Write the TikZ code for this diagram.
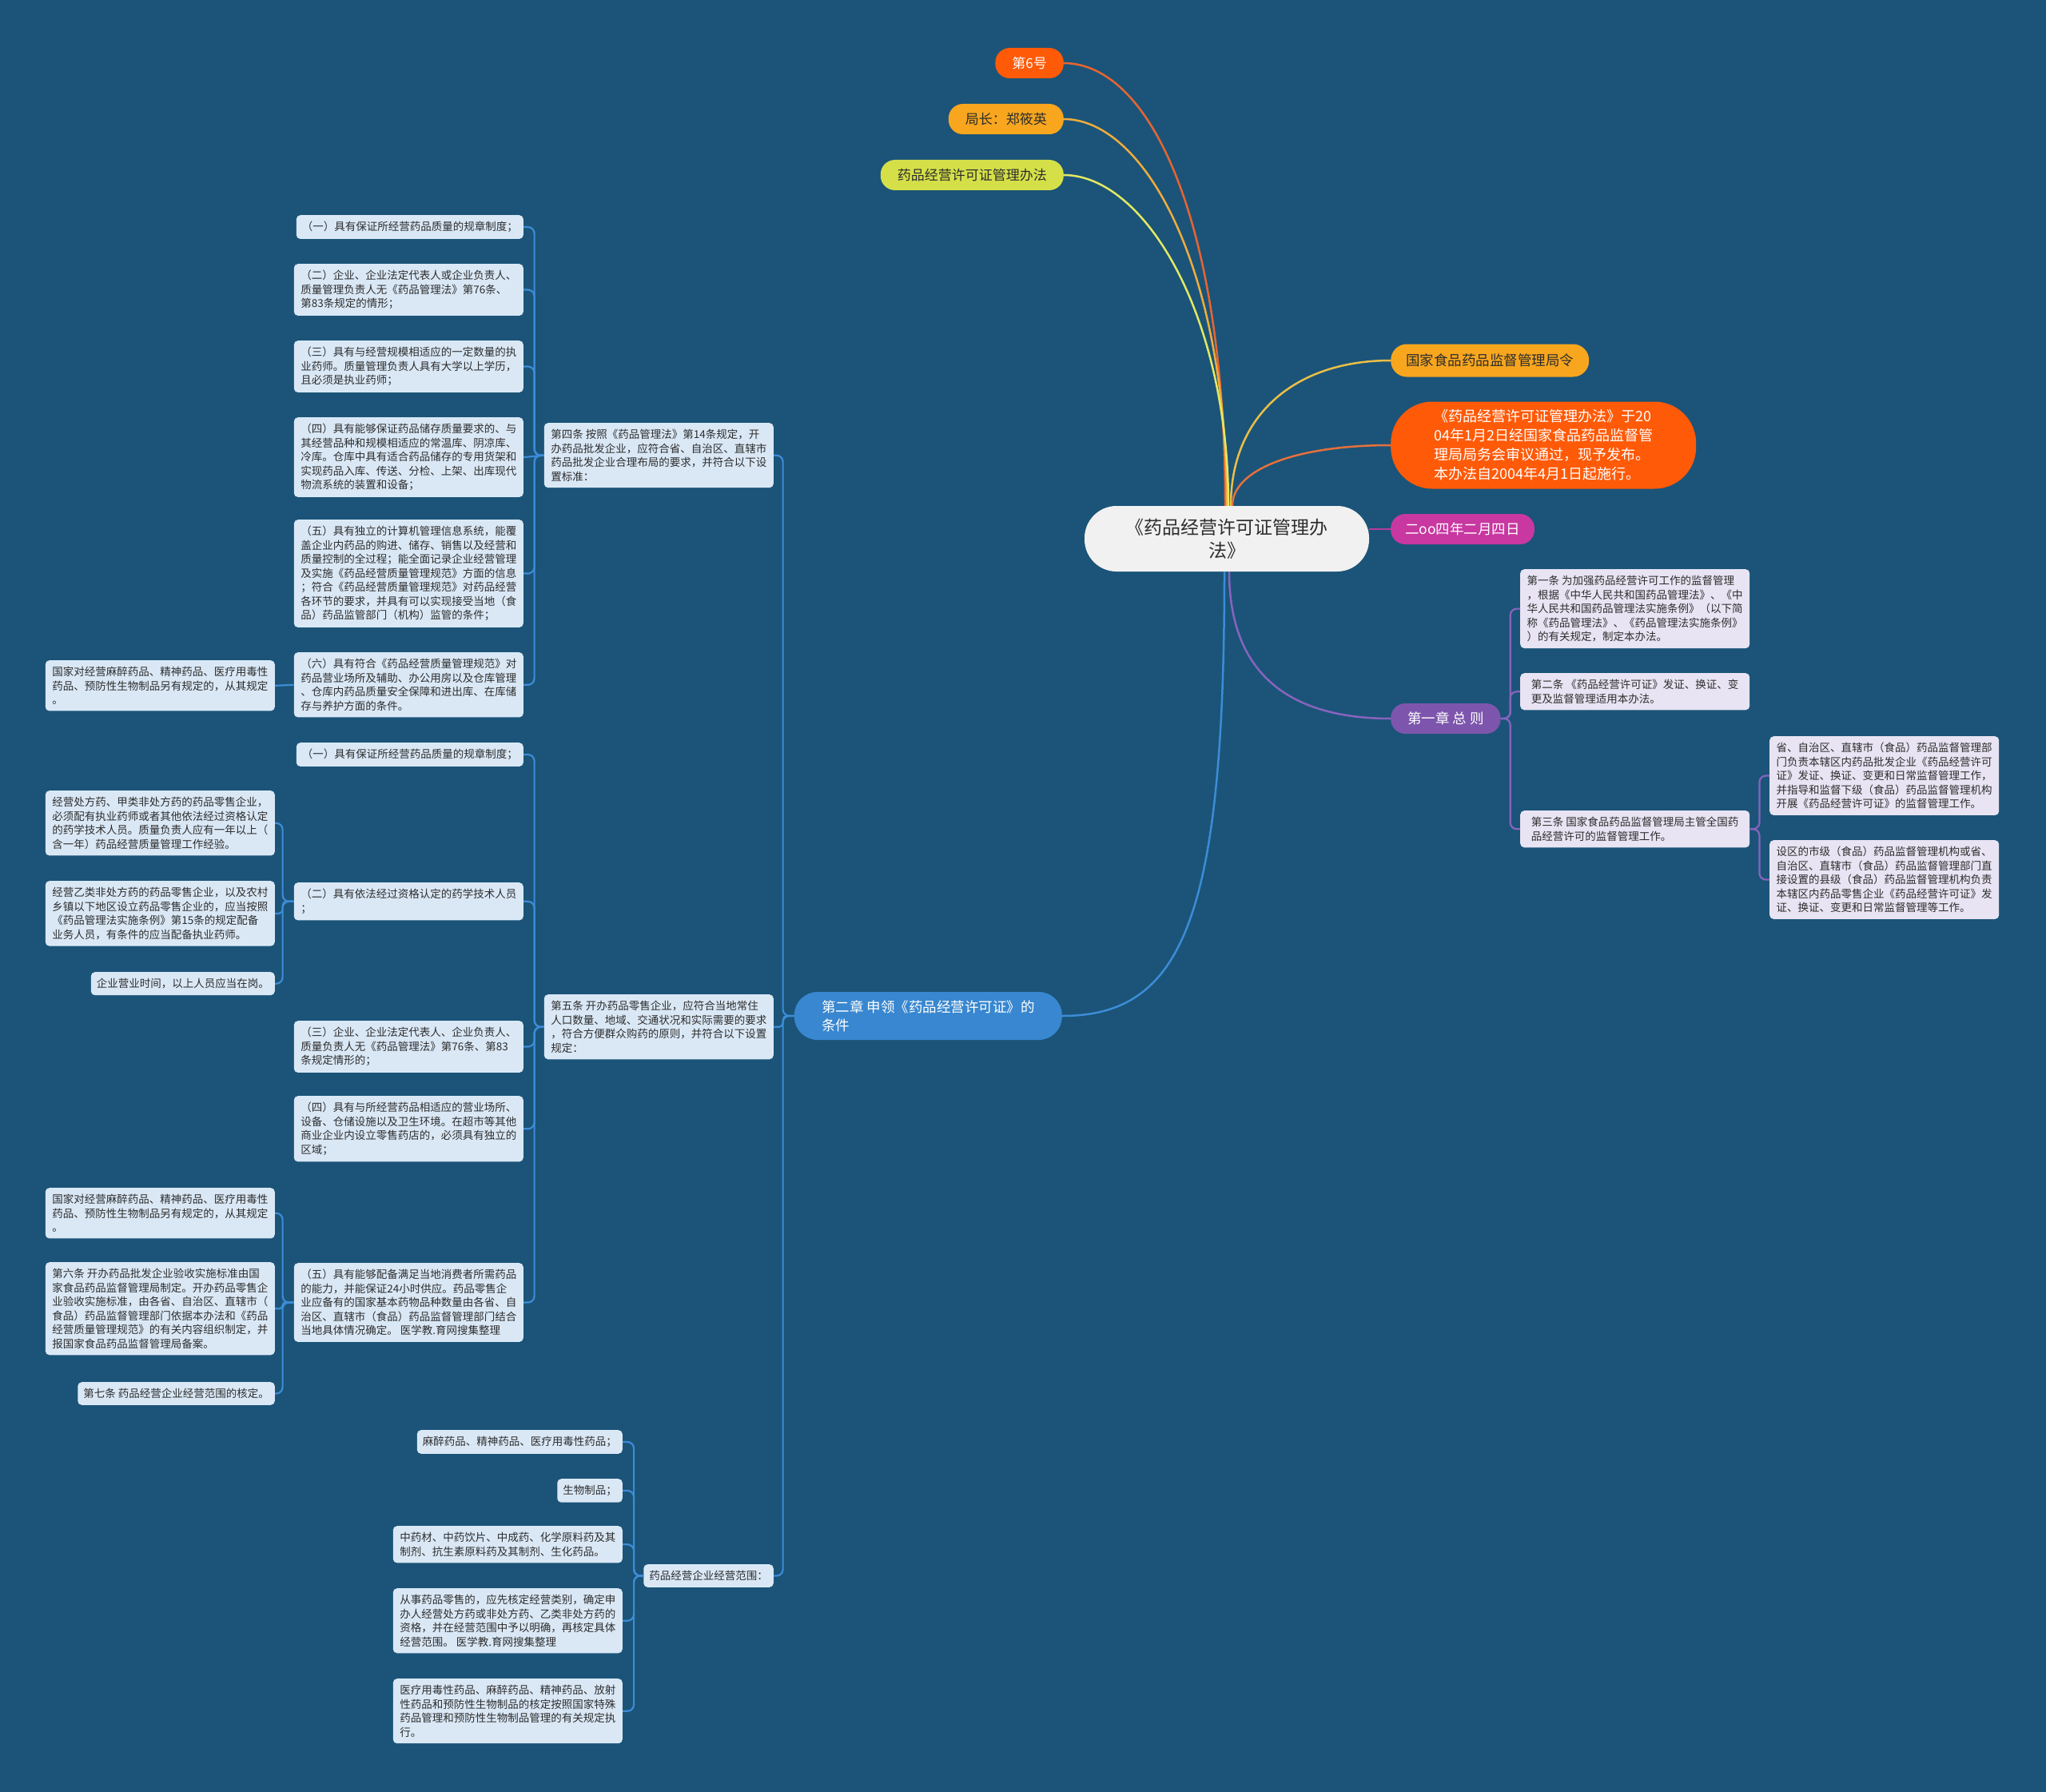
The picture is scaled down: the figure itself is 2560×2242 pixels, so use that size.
\documentclass[tikz,border=0pt]{standalone}
\usepackage{fontspec}
\setmainfont{Noto Sans CJK SC}
\usetikzlibrary{calc}
\definecolor{bgc}{RGB}{27,84,120}
\definecolor{txt}{RGB}{45,45,45}
\definecolor{leafb}{RGB}{218,232,246}
\definecolor{leafv}{RGB}{232,228,243}
\definecolor{rootf}{RGB}{241,241,241}
\definecolor{redf}{RGB}{255,90,8}
\definecolor{orf}{RGB}{248,166,30}
\definecolor{ygf}{RGB}{213,224,72}
\definecolor{magf}{RGB}{200,56,160}
\definecolor{purf}{RGB}{125,85,172}
\definecolor{bluef}{RGB}{56,135,208}
\definecolor{lred}{RGB}{232,100,50}
\definecolor{lor}{RGB}{240,172,60}
\definecolor{lyg}{RGB}{226,232,100}
\definecolor{lor2}{RGB}{236,190,70}
\definecolor{lor3}{RGB}{230,112,60}
\definecolor{lmag}{RGB}{180,60,160}
\definecolor{lpur}{RGB}{135,100,190}
\definecolor{lblue}{RGB}{60,140,215}
\tikzset{
  leaf/.style={fill=leafb, rounded corners=5pt, inner xsep=7pt, inner ysep=8pt, align=left,
    font=\fontsize{13.5}{17.5}\selectfont, text=txt},
  leafL/.style={leaf, anchor=north east},
  leafR/.style={leaf, fill=leafv, anchor=north west},
  wide/.style={minimum width=287pt},
  toppill/.style={font=\fontsize{17}{20}\selectfont, minimum height=38pt, inner xsep=21pt, inner ysep=2pt, rounded corners=18pt},
  sidepill/.style={font=\fontsize{17.5}{21}\selectfont, inner xsep=19pt, inner ysep=2pt, anchor=west},
  mainln/.style={line width=2.5pt},
  bb/.style={draw=lblue, line width=2.2pt, rounded corners=8pt},
  bp/.style={draw=lpur, line width=2.2pt, rounded corners=8pt},
}
\begin{document}
\begin{tikzpicture}[x=1pt,y=-1pt]
\fill[bgc] (0,0) rectangle (2560,2242);
\useasboundingbox (0,0) rectangle (2560,2242);

% root
\node[fill=rootf, text=txt, font=\fontsize{23}{29}\selectfont, align=center, minimum width=356pt, minimum height=82pt, rounded corners=40pt, inner sep=2pt] (root) at (1535,674) {《药品经营许可证管理办\\法》};

% top nodes
\node[toppill, fill=redf, text=white, anchor=east] (n6) at (1331,79) {第6号};
\node[toppill, fill=orf, text=txt, anchor=east] (nJ) at (1331,149) {局长：郑筱英};
\node[toppill, fill=ygf, text=txt, anchor=east] (nY) at (1331,219) {药品经营许可证管理办法};

% right nodes
\node[sidepill, fill=orf, text=txt, minimum height=41pt, rounded corners=20pt] (nG) at (1740,451) {国家食品药品监督管理局令};
\node[fill=redf, text=white, font=\fontsize{18}{24}\selectfont, align=left, minimum width=382pt, minimum height=109pt, rounded corners=52pt, inner sep=2pt, anchor=west] (nB) at (1740,557) {《药品经营许可证管理办法》于20\\04年1月2日经国家食品药品监督管\\理局局务会审议通过，现予发布。\\本办法自2004年4月1日起施行。};
\node[sidepill, fill=magf, text=white, minimum height=38pt, rounded corners=18pt, inner xsep=18pt] (nD) at (1740,662) {二oo四年二月四日};
\node[sidepill, fill=purf, text=white, minimum height=38pt, rounded corners=18pt, inner xsep=21pt] (nC1) at (1740,899) {第一章 总 则};
\node[fill=bluef, text=white, font=\fontsize{17.5}{23}\selectfont, align=left, minimum width=335pt, minimum height=60pt, rounded corners=29pt, inner sep=2pt, anchor=east] (nC2) at (1329,1271) {第二章 申领《药品经营许可证》的\\条件};

% root connectors
\draw[mainln, lred] (n6.east) .. controls +(110,0) and +(0,-350) .. ($(root.north)+(-2,0)$);
\draw[mainln, lor] (nJ.east) .. controls +(100,0) and +(0,-300) .. ($(root.north)+(0,0)$);
\draw[mainln, lyg] (nY.east) .. controls +(100,0) and +(0,-240) .. ($(root.north)+(2,0)$);
\draw[mainln, lor2] ($(root.north)+(5,0)$) .. controls +(0,-113) and +(-120,0) .. (nG.west);
\draw[mainln, lor3] ($(root.north)+(7,0)$) .. controls +(0,-45) and +(-120,0) .. (nB.west);
\draw[mainln, lmag] (root.east |- nD.west) -- (nD.west);
\draw[mainln, lpur] ($(root.south)+(3,0)$) .. controls +(0,125) and +(-130,0) .. (nC1.west);
\draw[mainln, lblue] ($(root.south)+(-3,0)$) .. controls +(0,435) and +(150,0) .. (nC2.east);

% chapter 1 children
\node[leafR, wide] (a1) at (1902,712) {第一条 为加强药品经营许可工作的监督管理\\，根据《中华人民共和国药品管理法》、《中\\华人民共和国药品管理法实施条例》（以下简\\称《药品管理法》、《药品管理法实施条例》\\）的有关规定，制定本办法。};
\node[leafR, wide] (a2) at (1902,842) {第二条 《药品经营许可证》发证、换证、变\\更及监督管理适用本办法。};
\node[leafR, wide] (a3) at (1902,1014) {第三条 国家食品药品监督管理局主管全国药\\品经营许可的监督管理工作。};
\node[leafR, wide] (a31) at (2214,921) {省、自治区、直辖市（食品）药品监督管理部\\门负责本辖区内药品批发企业《药品经营许可\\证》发证、换证、变更和日常监督管理工作，\\并指导和监督下级（食品）药品监督管理机构\\开展《药品经营许可证》的监督管理工作。};
\node[leafR, wide] (a32) at (2214,1051) {设区的市级（食品）药品监督管理机构或省、\\自治区、直辖市（食品）药品监督管理部门直\\接设置的县级（食品）药品监督管理机构负责\\本辖区内药品零售企业《药品经营许可证》发\\证、换证、变更和日常监督管理等工作。};

\draw[bp] (nC1.east) -- ++(12,0) |- (a1.west);
\draw[bp] (nC1.east) -- ++(12,0) |- (a2.west);
\draw[bp] (nC1.east) -- ++(12,0) |- (a3.west);
\draw[bp] (a3.east) -- ++(12,0) |- (a31.west);
\draw[bp] (a3.east) -- ++(12,0) |- (a32.west);

% chapter 2 children
\node[leafL, wide] (b4) at (968,529) {第四条 按照《药品管理法》第14条规定，开\\办药品批发企业，应符合省、自治区、直辖市\\药品批发企业合理布局的要求，并符合以下设\\置标准：};
\node[leafL, wide] (b5) at (968,1244) {第五条 开办药品零售企业，应符合当地常住\\人口数量、地域、交通状况和实际需要的要求\\，符合方便群众购药的原则，并符合以下设置\\规定：};
\node[leafL] (b6) at (968,1957) {药品经营企业经营范围：};

\draw[bb] (nC2.west) -- ++(-14,0) |- (b4.east);
\draw[bb, rounded corners=5pt] (nC2.west) -- ++(-14,0) |- (b5.east);
\draw[bb] (nC2.west) -- ++(-14,0) |- (b6.east);

% article 4 children
\node[leafL] (c1) at (655,269) {（一）具有保证所经营药品质量的规章制度；};
\node[leafL, wide] (c2) at (655,330) {（二）企业、企业法定代表人或企业负责人、\\质量管理负责人无《药品管理法》第76条、\\第83条规定的情形；};
\node[leafL, wide] (c3) at (655,426) {（三）具有与经营规模相适应的一定数量的执\\业药师。质量管理负责人具有大学以上学历，\\且必须是执业药师；};
\node[leafL, wide] (c4) at (655,522) {（四）具有能够保证药品储存质量要求的、与\\其经营品种和规模相适应的常温库、阴凉库、\\冷库。仓库中具有适合药品储存的专用货架和\\实现药品入库、传送、分检、上架、出库现代\\物流系统的装置和设备；};
\node[leafL, wide] (c5) at (655,650) {（五）具有独立的计算机管理信息系统，能覆\\盖企业内药品的购进、储存、销售以及经营和\\质量控制的全过程；能全面记录企业经营管理\\及实施《药品经营质量管理规范》方面的信息\\；符合《药品经营质量管理规范》对药品经营\\各环节的要求，并具有可以实现接受当地（食\\品）药品监管部门（机构）监管的条件；};
\node[leafL, wide] (c6) at (655,816) {（六）具有符合《药品经营质量管理规范》对\\药品营业场所及辅助、办公用房以及仓库管理\\、仓库内药品质量安全保障和进出库、在库储\\存与养护方面的条件。};
\node[leafL, wide] (c6a) at (344,826) {国家对经营麻醉药品、精神药品、医疗用毒性\\药品、预防性生物制品另有规定的，从其规定\\。};

\draw[bb] (b4.west) -- ++(-12,0) |- (c1.east);
\draw[bb] (b4.west) -- ++(-12,0) |- (c2.east);
\draw[bb] (b4.west) -- ++(-12,0) |- (c3.east);
\draw[bb] (b4.west) -- (c4.east);
\draw[bb] (b4.west) -- ++(-12,0) |- (c5.east);
\draw[bb] (b4.west) -- ++(-12,0) |- (c6.east);
\draw[bb] (c6.west) -- (c6a.east);

% article 5 children
\node[leafL] (d1) at (655,929) {（一）具有保证所经营药品质量的规章制度；};
\node[leafL, wide] (d2) at (655,1104) {（二）具有依法经过资格认定的药学技术人员\\；};
\node[leafL, wide] (d3) at (655,1277) {（三）企业、企业法定代表人、企业负责人、\\质量负责人无《药品管理法》第76条、第83\\条规定情形的；};
\node[leafL, wide] (d4) at (655,1371) {（四）具有与所经营药品相适应的营业场所、\\设备、仓储设施以及卫生环境。在超市等其他\\商业企业内设立零售药店的，必须具有独立的\\区域；};
\node[leafL, wide] (d5) at (655,1580) {（五）具有能够配备满足当地消费者所需药品\\的能力，并能保证24小时供应。药品零售企\\业应备有的国家基本药物品种数量由各省、自\\治区、直辖市（食品）药品监督管理部门结合\\当地具体情况确定。 医学教.育网搜集整理};

\draw[bb] (b5.west) -- ++(-12,0) |- (d1.east);
\draw[bb] (b5.west) -- ++(-12,0) |- (d2.east);
\draw[bb] (b5.west) -- ++(-12,0) |- (d3.east);
\draw[bb] (b5.west) -- ++(-12,0) |- (d4.east);
\draw[bb] (b5.west) -- ++(-12,0) |- (d5.east);

\node[leafL, wide] (e1) at (344,989) {经营处方药、甲类非处方药的药品零售企业，\\必须配有执业药师或者其他依法经过资格认定\\的药学技术人员。质量负责人应有一年以上（\\含一年）药品经营质量管理工作经验。};
\node[leafL, wide] (e2) at (344,1102) {经营乙类非处方药的药品零售企业，以及农村\\乡镇以下地区设立药品零售企业的，应当按照\\《药品管理法实施条例》第15条的规定配备\\业务人员，有条件的应当配备执业药师。};
\node[leafL] (e3) at (344,1216) {企业营业时间，以上人员应当在岗。};

\draw[bb] (d2.west) -- ++(-14,0) |- (e1.east);
\draw[bb, rounded corners=5pt] (d2.west) -- ++(-14,0) |- (e2.east);
\draw[bb] (d2.west) -- ++(-14,0) |- (e3.east);

\node[leafL, wide] (f1) at (344,1486) {国家对经营麻醉药品、精神药品、医疗用毒性\\药品、预防性生物制品另有规定的，从其规定\\。};
\node[leafL, wide] (f2) at (344,1579) {第六条 开办药品批发企业验收实施标准由国\\家食品药品监督管理局制定。开办药品零售企\\业验收实施标准，由各省、自治区、直辖市（\\食品）药品监督管理部门依据本办法和《药品\\经营质量管理规范》的有关内容组织制定，并\\报国家食品药品监督管理局备案。};
\node[leafL] (f3) at (344,1729) {第七条 药品经营企业经营范围的核定。};

\draw[bb] (d5.west) -- ++(-14,0) |- (f1.east);
\draw[bb, rounded corners=4pt] (d5.west) -- ++(-14,0) |- (f2.east);
\draw[bb] (d5.west) -- ++(-14,0) |- (f3.east);

% scope children
\node[leafL] (g1) at (779,1789) {麻醉药品、精神药品、医疗用毒性药品；};
\node[leafL] (g2) at (779,1850) {生物制品；};
\node[leafL, wide] (g3) at (779,1909) {中药材、中药饮片、中成药、化学原料药及其\\制剂、抗生素原料药及其制剂、生化药品。};
\node[leafL, wide] (g4) at (779,1987) {从事药品零售的，应先核定经营类别，确定申\\办人经营处方药或非处方药、乙类非处方药的\\资格，并在经营范围中予以明确，再核定具体\\经营范围。 医学教.育网搜集整理};
\node[leafL, wide] (g5) at (779,2100) {医疗用毒性药品、麻醉药品、精神药品、放射\\性药品和预防性生物制品的核定按照国家特殊\\药品管理和预防性生物制品管理的有关规定执\\行。};

\draw[bb] (b6.west) -- ++(-12,0) |- (g1.east);
\draw[bb] (b6.west) -- ++(-12,0) |- (g2.east);
\draw[bb] (b6.west) -- ++(-12,0) |- (g3.east);
\draw[bb] (b6.west) -- ++(-12,0) |- (g4.east);
\draw[bb] (b6.west) -- ++(-12,0) |- (g5.east);
\end{tikzpicture}
\end{document}
